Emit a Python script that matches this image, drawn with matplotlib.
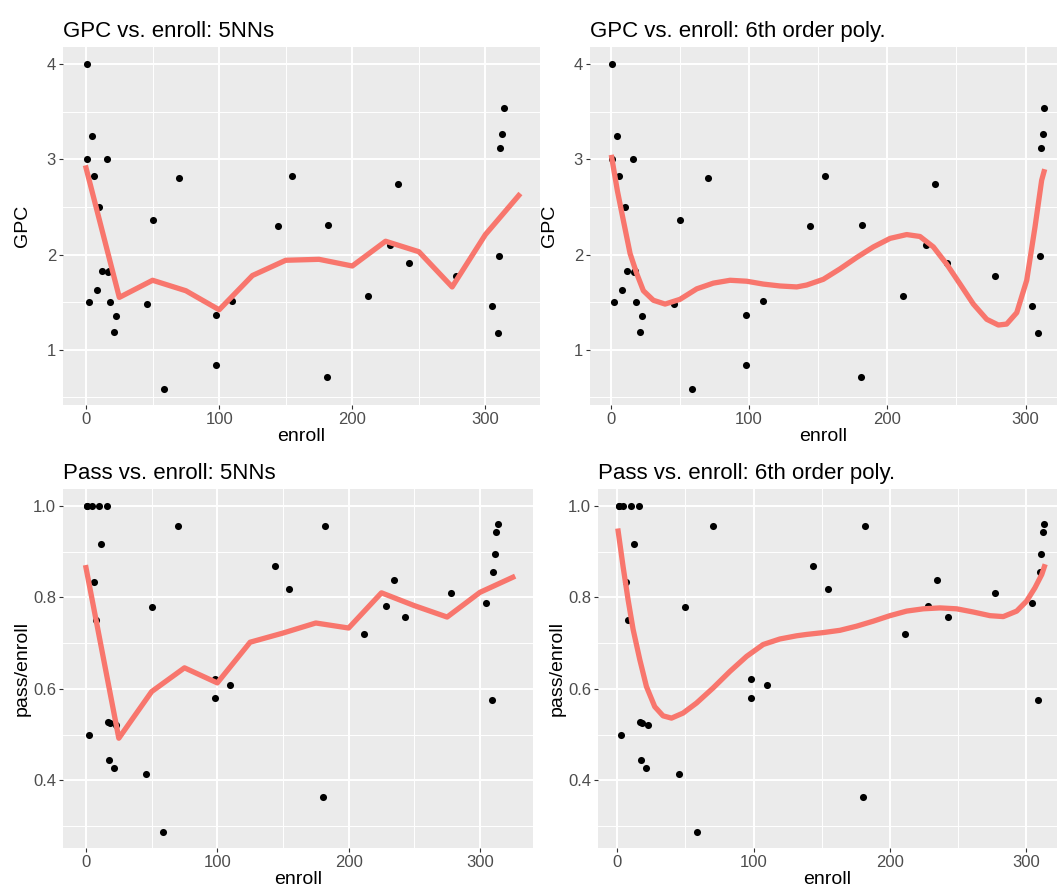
import matplotlib
matplotlib.use("Agg")
import matplotlib.pyplot as plt
from matplotlib.ticker import MultipleLocator

plt.rcParams['font.family'] = ['Liberation Sans', 'DejaVu Sans']

# data: (enroll, GPC, pass/enroll) per course
enroll = [1.0, 1.0, 2.3, 4.3, 6.3, 8.0, 10.0, 11.8, 15.8, 16.8, 17.5, 18.0,
          21.0, 22.8, 45.5, 50.0, 58.6, 70.0, 98.0, 98.0, 110.0, 143.9,
          154.7, 181.9, 180.7, 211.5, 228.2, 234.5, 242.8, 277.8, 313.6,
          312.6, 311.3, 310.3, 304.6, 309.3]
gpc = [4.00, 3.00, 1.50, 3.25, 2.83, 1.63, 2.50, 1.83, 3.00, 1.82, 1.83, 1.50,
       1.19, 1.35, 1.48, 2.36, 0.59, 2.80, 1.37, 0.84, 1.51, 2.30,
       2.82, 2.31, 0.71, 1.57, 2.10, 2.74, 1.91, 1.78, 3.54,
       3.27, 3.12, 1.99, 1.46, 1.18]
pass_rate = [1.000, 1.000, 0.500, 1.000, 0.833, 0.750, 1.000, 0.916, 1.000,
             0.528, 0.445, 0.525, 0.428, 0.521, 0.413, 0.780, 0.288, 0.956,
             0.622, 0.580, 0.609, 0.868, 0.819, 0.956, 0.364, 0.721, 0.781,
             0.838, 0.757, 0.809, 0.961, 0.942, 0.894, 0.855, 0.787, 0.575]

# 5NN fits on the grid
knn_x = [0, 25, 50, 75, 100, 125, 150, 175, 200, 225, 250, 275, 300, 325]
knn_gpc = [2.91, 1.55, 1.73, 1.62, 1.42, 1.78, 1.94, 1.95, 1.88, 2.14, 2.03,
           1.66, 2.21, 2.62]
knn_pass = [0.865, 0.492, 0.594, 0.646, 0.613, 0.702, 0.722, 0.744, 0.733,
            0.810, 0.782, 0.757, 0.811, 0.844]

# 6th order polynomial curves (traced)
poly_gpc_x = [0.7, 4.8, 9.1, 14.0, 18.8, 23.6, 30.8, 39.3, 50.1, 62.2, 74.2,
              86.3, 98.3, 110.3, 122.4, 134.5, 141.7, 153.7, 165.8, 177.9,
              189.9, 202.0, 214.0, 223.6, 233.3, 242.9, 252.6, 262.2, 271.9,
              280.3, 286.3, 293.6, 300.8, 306.8, 311.6, 313.3]
poly_gpc_y = [3.02, 2.67, 2.36, 2.01, 1.80, 1.62, 1.52, 1.48, 1.53, 1.64, 1.70,
              1.73, 1.72, 1.69, 1.67, 1.66, 1.68, 1.74, 1.85, 1.97,
              2.08, 2.17, 2.21, 2.19, 2.08, 1.90, 1.69, 1.48, 1.32,
              1.26, 1.27, 1.39, 1.73, 2.29, 2.78, 2.87]
poly_pass_x = [0.5, 4.1, 7.8, 11.5, 16.4, 21.3, 27.4, 33.5, 39.7, 48.2, 58.1,
               70.3, 82.6, 94.9, 107.1, 119.3, 131.6, 139.0, 151.2, 163.5,
               175.7, 188.0, 200.2, 212.5, 224.7, 237.0, 249.3, 261.5, 273.8,
               283.5, 293.4, 300.7, 306.8, 311.8, 313.7]
poly_pass_y = [0.945, 0.868, 0.795, 0.730, 0.664, 0.605, 0.561, 0.541, 0.536,
               0.547, 0.569, 0.602, 0.638, 0.671, 0.697, 0.709, 0.716, 0.719,
               0.723, 0.728, 0.737, 0.748, 0.760, 0.770, 0.775, 0.777, 0.775,
               0.768, 0.760, 0.758, 0.770, 0.792, 0.821, 0.850, 0.867]

W, H = 1057, 891
fig = plt.figure(figsize=(W / 100, H / 100), dpi=100)


def make_ax(l, r, t, b):
    return fig.add_axes([l / W, 1 - b / H, (r - l) / W, (b - t) / H])


def style(ax, title, ylabel, xlim, ylim, ymaj, ymin, ypad):
    ax.set_facecolor('#EBEBEB')
    for s in ax.spines.values():
        s.set_visible(False)
    ax.set_xlim(*xlim)
    ax.set_ylim(*ylim)
    ax.xaxis.set_major_locator(MultipleLocator(100))
    ax.xaxis.set_minor_locator(MultipleLocator(50))
    ax.yaxis.set_major_locator(MultipleLocator(ymaj))
    ax.yaxis.set_minor_locator(MultipleLocator(ymin))
    ax.grid(which='major', color='white', linewidth=1.4)
    ax.grid(which='minor', color='white', linewidth=0.7)
    ax.set_axisbelow(True)
    ax.tick_params(which='major', length=3, width=0.8, color='#333333',
                   labelsize=12, labelcolor='#4D4D4D', pad=2)
    ax.tick_params(which='minor', length=0)
    ax.set_title(title, loc='left', fontsize=16, pad=7)
    ax.set_xlabel('enroll', fontsize=14, labelpad=1)
    ax.set_ylabel(ylabel, fontsize=14, labelpad=ypad)


red = '#F8766D'
lw = 3.8
dot = 26

ax1 = make_ax(63, 540, 47, 405)
ax1.scatter(enroll, gpc, s=dot, color='black', linewidths=0, zorder=2)
ax1.plot(knn_x, knn_gpc, color=red, linewidth=lw, zorder=3)
style(ax1, 'GPC vs. enroll: 5NNs', 'GPC', (-17.3, 341), (0.42, 4.18), 1, 0.5, 11)

ax2 = make_ax(590, 1057, 47, 405)
ax2.scatter(enroll, gpc, s=dot, color='black', linewidths=0, zorder=2)
ax2.plot(poly_gpc_x, poly_gpc_y, color=red, linewidth=lw, zorder=3,
         solid_joinstyle='round')
style(ax2, 'GPC vs. enroll: 6th order poly.', 'GPC', (-15, 322.7), (0.42, 4.18), 1, 0.5, 11)

ax3 = make_ax(63, 533, 489, 848)
ax3.scatter(enroll, pass_rate, s=dot, color='black', linewidths=0, zorder=2)
ax3.plot(knn_x, knn_pass, color=red, linewidth=lw, zorder=3)
style(ax3, 'Pass vs. enroll: 5NNs', 'pass/enroll', (-17.5, 340.4), (0.252, 1.037), 0.2, 0.1, 2)
ax3.yaxis.set_major_formatter(plt.FuncFormatter(lambda v, p: f'{v:.1f}'))

ax4 = make_ax(598, 1057, 489, 848)
ax4.scatter(enroll, pass_rate, s=dot, color='black', linewidths=0, zorder=2)
ax4.plot(poly_pass_x, poly_pass_y, color=red, linewidth=lw, zorder=3,
         solid_joinstyle='round')
style(ax4, 'Pass vs. enroll: 6th order poly.', 'pass/enroll', (-14.3, 323), (0.252, 1.037), 0.2, 0.1, 2)
ax4.yaxis.set_major_formatter(plt.FuncFormatter(lambda v, p: f'{v:.1f}'))

fig.savefig('out.png', dpi=100)
